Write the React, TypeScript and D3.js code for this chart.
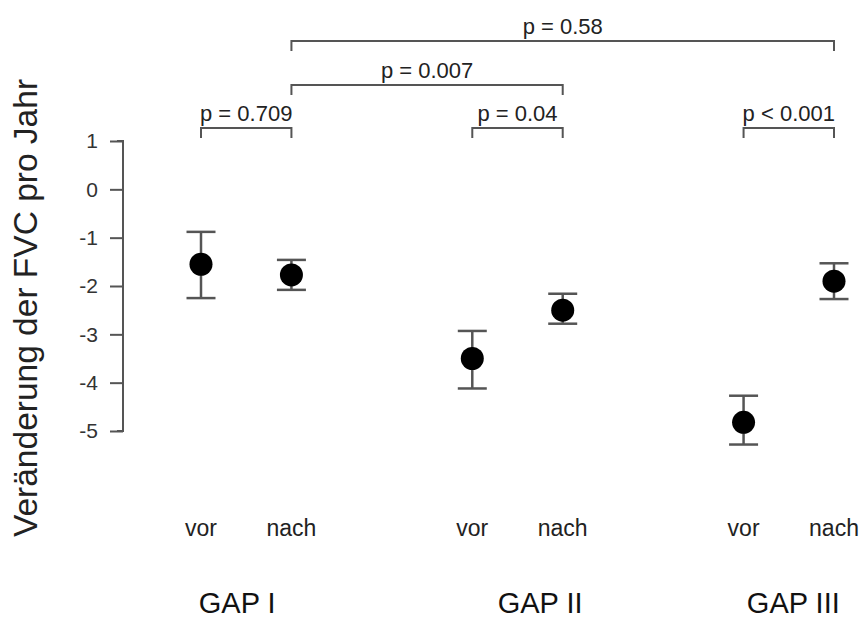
import React, { useEffect, useRef } from "react";
import * as d3 from "d3";

// positions on the x axis (slot units), one per point
const slots = [1, 2, 4, 5, 7, 8];
const phases = ["vor", "nach", "vor", "nach", "vor", "nach"];
const means = [-1.55, -1.77, -3.5, -2.5, -4.82, -1.9];
const upper = [-0.88, -1.46, -2.93, -2.16, -4.27, -1.53];
const lower = [-2.25, -2.08, -4.12, -2.78, -5.28, -2.27];

const groups = ["GAP I", "GAP II", "GAP III"];
const groupSlots = [1.4, 4.75, 7.55];

const yTicks = [1, 0, -1, -2, -3, -4, -5];

// comparisons: from slot, to slot, level (0 = lowest), label
const compFrom = [1, 4, 7, 2, 2];
const compTo = [2, 5, 8, 5, 8];
const compLevel = [0, 0, 0, 1, 2];
const compLabel = ["p = 0.709", "p = 0.04", "p < 0.001", "p = 0.007", "p = 0.58"];

const App = () => {
  const svgRef = useRef<SVGSVGElement>(null);

  useEffect(() => {
    const width = 865;
    const height = 619;
    const font = "'Liberation Sans', Arial, sans-serif";
    const lineColor = "#555";

    const svg = d3.select(svgRef.current);
    svg.selectAll("*").remove();
    svg.attr("width", width).attr("height", height);

    svg.append("rect").attr("width", width).attr("height", height).attr("fill", "#fff");

    const x = d3.scaleLinear().domain([1, 8]).range([201, 834]);
    const y = d3.scaleLinear().domain([1, -5]).range([141, 431]);

    // y axis
    const axis = svg.append("g")
      .attr("transform", "translate(123,0)")
      .call(d3.axisLeft(y).tickValues(yTicks).tickFormat((d) => String(d)).tickSize(13).tickPadding(12));
    axis.selectAll("path").attr("stroke", lineColor).attr("stroke-width", 2).attr("d", `M-6,${y(1)}H0V${y(-5)}H-6`);
    axis.selectAll("line").attr("stroke", lineColor).attr("stroke-width", 2);
    axis.selectAll("text")
      .attr("fill", "#333")
      .style("font-family", font)
      .style("font-size", "21px");

    // y title
    svg.append("text")
      .attr("transform", `translate(37,${(y(1) + y(-5)) / 2 + 22}) rotate(-90)`)
      .attr("text-anchor", "middle")
      .attr("fill", "#222")
      .style("font-family", font)
      .style("font-size", "33.5px")
      .text("Veränderung der FVC pro Jahr");

    // error bars
    const cap = 14.5;
    slots.forEach((s, i) => {
      const g = svg.append("g").attr("stroke", lineColor).attr("stroke-width", 2.5);
      g.append("line").attr("x1", x(s)).attr("x2", x(s)).attr("y1", y(upper[i])).attr("y2", y(lower[i]));
      g.append("line").attr("x1", x(s) - cap).attr("x2", x(s) + cap).attr("y1", y(upper[i])).attr("y2", y(upper[i]));
      g.append("line").attr("x1", x(s) - cap).attr("x2", x(s) + cap).attr("y1", y(lower[i])).attr("y2", y(lower[i]));
    });

    // points
    svg.selectAll("circle.pt")
      .data(slots)
      .join("circle")
      .attr("class", "pt")
      .attr("cx", (d) => x(d))
      .attr("cy", (_, i) => y(means[i]))
      .attr("r", 11.5)
      .attr("fill", "#000");

    // significance brackets
    const levelY = [128, 85, 41];
    const tickLen = 10;
    compFrom.forEach((f, i) => {
      const yy = levelY[compLevel[i]];
      svg.append("path")
        .attr("d", `M${x(f)},${yy + tickLen}V${yy}H${x(compTo[i])}V${yy + tickLen}`)
        .attr("fill", "none")
        .attr("stroke", lineColor)
        .attr("stroke-width", 2);
      svg.append("text")
        .attr("x", (x(f) + x(compTo[i])) / 2)
        .attr("y", yy - 7)
        .attr("text-anchor", "middle")
        .attr("fill", "#222")
        .style("font-family", font)
        .style("font-size", "22px")
        .text(compLabel[i]);
    });

    // phase labels
    svg.selectAll("text.phase")
      .data(slots)
      .join("text")
      .attr("class", "phase")
      .attr("x", (d) => x(d))
      .attr("y", 536)
      .attr("text-anchor", "middle")
      .attr("fill", "#222")
      .style("font-family", font)
      .style("font-size", "23px")
      .text((_, i) => phases[i]);

    // group labels
    svg.selectAll("text.grp")
      .data(groupSlots)
      .join("text")
      .attr("class", "grp")
      .attr("x", (d) => x(d))
      .attr("y", 613)
      .attr("text-anchor", "middle")
      .attr("fill", "#111")
      .style("font-family", font)
      .style("font-size", "29px")
      .text((_, i) => groups[i]);
  }, []);

  return <svg ref={svgRef} style={{ position: "absolute", left: 0, top: 0 }}></svg>;
};

export default App;
